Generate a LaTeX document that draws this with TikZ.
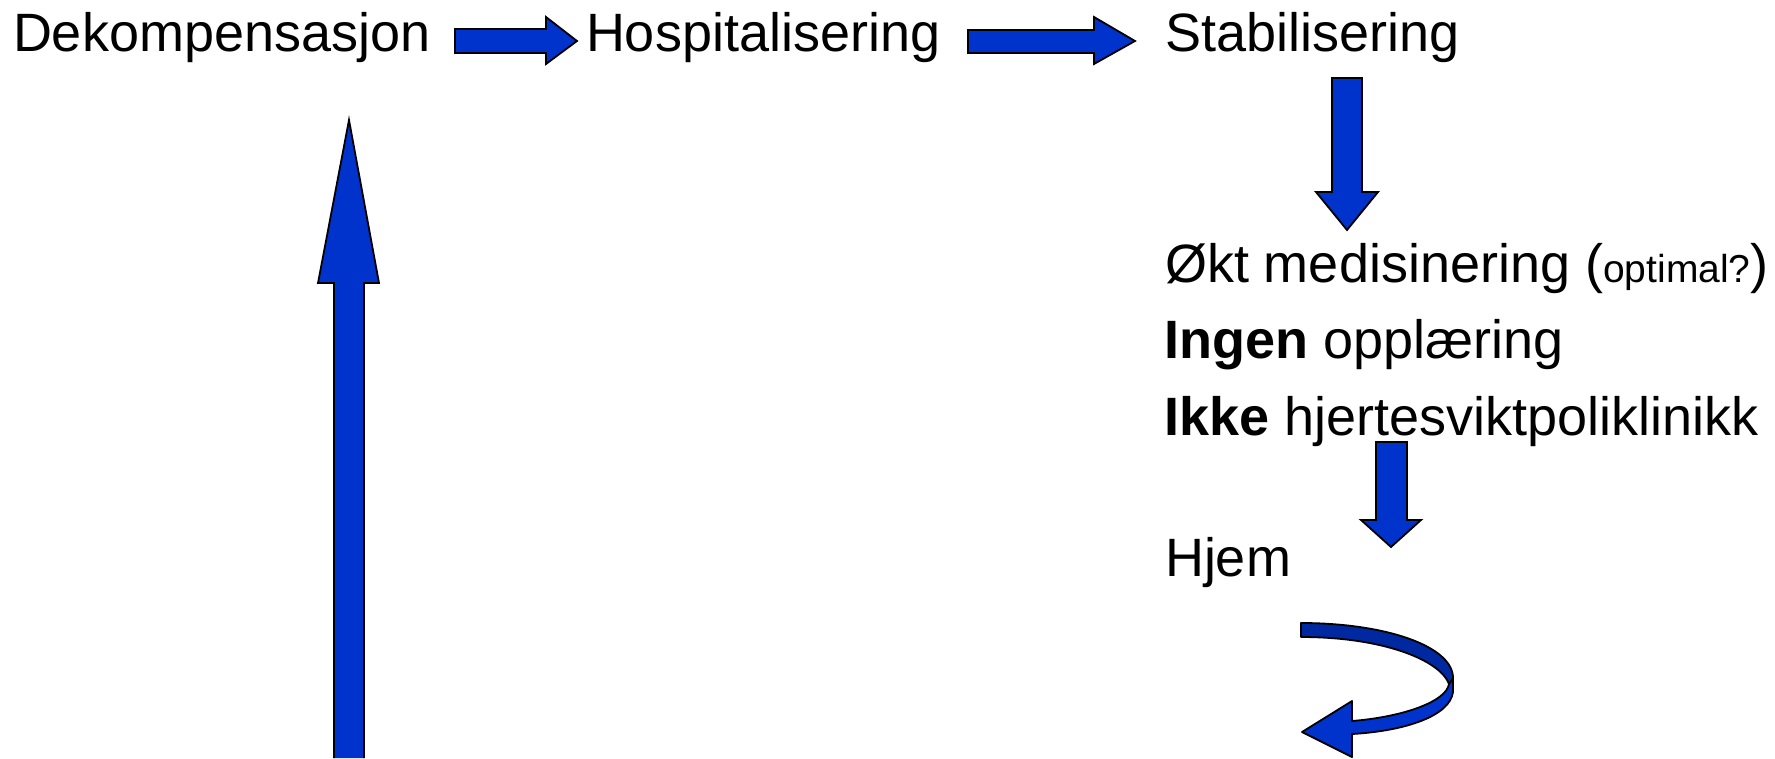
\documentclass[tikz,border=0pt]{standalone}
\usepackage{fontspec}
\setmainfont{Liberation Sans}
\definecolor{arrowblue}{RGB}{0,51,204}
\definecolor{darkblue}{RGB}{0,40,160}
\begin{document}
\begin{tikzpicture}[x=1pt,y=-1pt,
  lbl/.style={anchor=base west,inner sep=0pt,outer sep=0pt,font=\fontsize{54}{62}\selectfont},
  blockarrow/.style={fill=arrowblue,draw=black,line width=1.8pt,line join=miter},
  backband/.style={fill=darkblue,draw=black,line width=1.8pt,line join=round}]
\useasboundingbox (0,0) rectangle (1775,758);
% texts
\node[lbl] (dek) at (13,51) {Dekompensasjon};
\node[lbl] (hosp) at (586,51) {Hospitalisering};
\node[lbl] (stab) at (1165,51) {Stabilisering};
\node[lbl] (okt) at (1165,282) {Økt medisinering ({\fontsize{39}{46}\selectfont optimal?})};
\node[lbl] (ingen) at (1164,358) {\textbf{Ingen} opplæring};
\node[lbl] (ikke) at (1164,435) {\textbf{Ikke} hjertesviktpoliklinikk};
\node[lbl] (hjem) at (1165,576) {Hjem};
% right arrows
\draw[blockarrow] (455,29) -- (546,29) -- (546,17) -- (577,41) -- (546,64) -- (546,53) -- (455,53) -- cycle;
\draw[blockarrow] (968,30) -- (1094,30) -- (1094,17) -- (1135,41) -- (1094,64) -- (1094,53) -- (968,53) -- cycle;
% down arrows
\draw[blockarrow] (1332,78) -- (1362,78) -- (1362,192) -- (1378,192) -- (1347,230) -- (1316,192) -- (1332,192) -- cycle;
\draw[blockarrow] (1376,442) -- (1407,442) -- (1407,520) -- (1421,520) -- (1391,547) -- (1361,520) -- (1376,520) -- cycle;
% up arrow (runs off the bottom edge)
\fill[arrowblue] (334,758) -- (334,283) -- (318,283) -- (349,120) -- (379,283) -- (364,283) -- (364,758) -- cycle;
\draw[black,line width=1.8pt,line join=miter] (334,758) -- (334,283) -- (318,283) -- (349,120) -- (379,283) -- (364,283) -- (364,758);
% curved arrow
\draw[blockarrow,line join=round] (1453,678) -- (1453,692)
  .. controls (1450,716) and (1405,731) .. (1352,734)
  -- (1352,757) -- (1302,732) -- (1352,701) -- (1352,721)
  .. controls (1402,717) and (1446,702) .. (1449,684) -- cycle;
\draw[backband] (1301,623) .. controls (1385,623) and (1453,646) .. (1453,678)
  -- (1449,684) .. controls (1440,660) and (1383,637) .. (1301,637) -- cycle;
\end{tikzpicture}
\end{document}
